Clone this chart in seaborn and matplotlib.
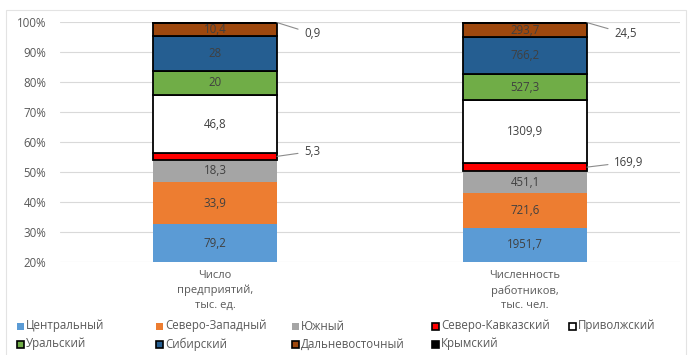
import numpy as np
import pandas as pd
import matplotlib
matplotlib.use("Agg")
import matplotlib.pyplot as plt
from matplotlib.patches import Rectangle
from matplotlib.ticker import PercentFormatter
import seaborn as sns

# Federal districts, bottom to top of each stack
regions = ["Центральный", "Северо-Западный", "Южный", "Северо-Кавказский",
           "Приволжский", "Уральский", "Сибирский", "Дальневосточный", "Крымский"]
categories = ["Число\nпредприятий,\nтыс. ед.", "Численность\nработников,\nтыс. чел."]
enterprises = [79.2, 33.9, 18.3, 5.3, 46.8, 20, 28, 10.4, 0.9]
workers = [1951.7, 721.6, 451.1, 169.9, 1309.9, 527.3, 766.2, 293.7, 24.5]

colors = ["#5B9BD5", "#ED7D31", "#A5A5A5", "#FF0000", "#FFFFFF",
          "#70AD47", "#255E91", "#9E480E", "#000000"]
outlined = [False, False, False, True, True, True, True, True, True]
outside_label = [False, False, False, True, False, False, False, False, True]

sns.set_theme(style="white")
plt.rcParams["font.family"] = ["Open Sans", "DejaVu Sans"]
TXT = "#595959"
YMIN = 0.2

fig = plt.figure(figsize=(6.88, 3.55), dpi=100)
W, H = 688, 355
ax = fig.add_axes([60 / W, (H - 262) / H, 620 / W, 240 / H])

values = np.array([enterprises, workers])          # shape (2, 9)
shares = values / values.sum(axis=1, keepdims=True)
bottoms = np.hstack([np.zeros((2, 1)), np.cumsum(shares, axis=1)[:, :-1]])

for i, region in enumerate(regions):
    df = pd.DataFrame({"cat": categories, "share": shares[:, i]})
    sns.barplot(data=df, x="cat", y="share", bottom=bottoms[:, i],
                color=colors[i], saturation=1, width=0.4, ax=ax,
                edgecolor="black" if outlined[i] else "none",
                linewidth=1.3 if outlined[i] else 0, zorder=3)

def fmt(v):
    return f"{v:g}".replace(".", ",")

for c in range(2):
    for i in range(len(regions)):
        lo = max(bottoms[c, i], YMIN)
        hi = bottoms[c, i] + shares[c, i]
        mid = (lo + hi) / 2
        if outside_label[i]:
            dy = -11 if i == len(regions) - 1 else 5
            ax.annotate(fmt(values[c, i]), xy=(c + 0.2, mid),
                        xytext=(27, dy), textcoords="offset pixels",
                        ha="left", va="center", fontsize=8.3, color="#404040",
                        arrowprops=dict(arrowstyle="-", color="#8c8c8c",
                                        lw=0.8, shrinkA=2, shrinkB=0,
                                        connectionstyle="arc3,rad=0.0"),
                        zorder=5)
        else:
            ax.text(c, mid, fmt(values[c, i]), ha="center", va="center",
                    fontsize=8.3, color="#404040", zorder=5)

ax.set_ylim(YMIN, 1.0)
ax.set_xlim(-0.5, 1.5)
ax.set_yticks(np.arange(0.2, 1.01, 0.1))
ax.yaxis.set_major_formatter(PercentFormatter(1.0, decimals=0))
ax.grid(axis="y", color="#d9d9d9", lw=0.8, zorder=0)
ax.set_axisbelow(True)
for s in ax.spines.values():
    s.set_visible(False)
ax.set_xlabel("")
ax.set_ylabel("")
ax.tick_params(axis="y", length=0, pad=10, labelsize=8.3, labelcolor=TXT)
ax.tick_params(axis="x", length=0, pad=6, labelsize=8, labelcolor=TXT)
for lbl in ax.get_xticklabels():
    lbl.set_linespacing(1.4)

# legend: two rows of equally spaced entries
col_x = [17, 156, 292, 432, 569]
row_y = [326, 344]
for i, region in enumerate(regions):
    r = 0 if i < 5 else 1
    cidx = i if i < 5 else i - 5
    if i == 8:
        cidx = 3
    x0, y0 = col_x[cidx], row_y[r]
    fig.patches.append(Rectangle((x0 / W, (H - y0 - 3.5) / H), 7 / W, 7 / H,
                                 transform=fig.transFigure,
                                 facecolor=colors[i],
                                 edgecolor="black" if outlined[i] else "none",
                                 lw=1.2 if outlined[i] else 0))
    fig.text((x0 + 9) / W, (H - y0) / H, region, ha="left", va="center",
             fontsize=8.3, color=TXT)

# chart frame
fig.patches.append(Rectangle((6 / W, -0.02), 680 / W, (H - 10) / H + 0.02,
                             transform=fig.transFigure, fill=False,
                             edgecolor="#e3e3e3", lw=0.8))

fig.savefig("out.png", dpi=100)
